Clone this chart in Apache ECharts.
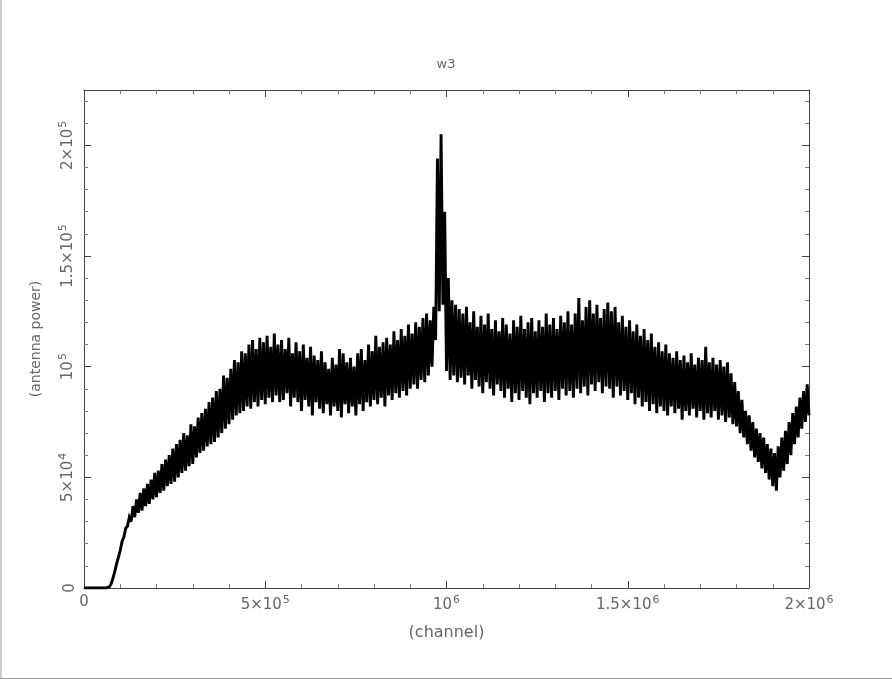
<!DOCTYPE html>
<html>
<head>
<meta charset="utf-8">
<style>
html,body{margin:0;padding:0;background:#fff;}
#chart{width:892px;height:680px;}
</style>
<script src="https://cdn.jsdelivr.net/npm/echarts@6/dist/echarts.min.js"></script>
</head>
<body>
<div id="chart"></div>
<script>
// Sampling grid of the spectrum (channels), one value every channelStep channels starting at 0
const channelStep = 5000;
// Antenna power, in units of 1000
const powerK = [
0,0,0,0,0,0,0,0,0,0,0,0,0,0,0.5,2,4.5,7.5,11,14,
17,21,23,27,28,32,30,37,32,40,34,43,35,45,37,47,38,49,40,52,
41,53,43,56,44,58,46,60,47,63,48,65,50,67,52,70,53,69,55,74,
56,73,59,77,61,79,62,81,64,84,65,86,66,89,68,90,70,96,72,95,
74,99,76,103,78,102,79,107,80,106,82,110,81,112,84,108,82,113,85,111,
83,114,86,109,84,115,87,110,84,112,85,108,88,113,82,106,86,111,84,107,
80,110,85,104,82,109,78,105,84,103,81,107,79,102,83,99,78,104,82,101,
80,108,77,106,83,102,79,104,82,100,78,106,83,108,80,103,84,110,82,107,
85,114,83,109,86,111,82,113,87,110,85,116,88,112,86,117,89,114,87,119,
90,115,92,120,90,118,94,122,93,124,96,121,100,127,112,194,125,205,128,170,
98,140,94,130,96,128,93,126,95,124,92,127,96,120,90,125,94,118,91,123,
88,119,93,124,90,117,87,121,92,116,89,122,86,119,90,115,84,121,88,118,
85,123,89,117,86,120,83,122,88,116,86,121,89,118,84,124,88,119,86,122,
89,117,85,123,90,120,87,125,89,119,86,124,90,131,88,121,91,127,87,130,
92,124,89,128,93,122,88,126,91,129,90,125,86,127,91,120,87,123,89,118,
85,121,88,116,83,119,86,114,82,117,84,112,80,115,83,109,79,111,82,107,
80,110,78,106,82,104,79,107,81,103,76,105,80,102,78,106,81,101,77,104,
80,103,76,109,79,102,77,104,80,101,76,103,78,100,75,102,77,97,74,93,
73,89,70,85,68,80,65,78,62,75,59,72,57,70,54,68,52,65,49,63,
46,61,44,64,50,68,53,71,56,75,60,79,65,82,68,86,72,89,75,92,
78
];
const xMajorLabels = {0:'{n|0}', 500000:'{n|5×10}{s|5}', 1000000:'{n|10}{s|6}', 1500000:'{n|1.5×10}{s|6}', 2000000:'{n|2×10}{s|6}'};
const yMajorLabels = {0:'{n|0}', 50000:'{n|5×10}{s|4}', 100000:'{n|10}{s|5}', 150000:'{n|1.5×10}{s|5}', 200000:'{n|2×10}{s|5}'};
const titleText = 'w3';
const xName = '(channel)';
const yName = '(antenna power)';

const seriesData = powerK.map((v, i) => [i * channelStep, v * 1000]);

const FONT = '"DejaVu Sans", sans-serif';
const TXT = '#666';
const AX = '#444';
const rich = {
  n: {fontFamily: FONT, fontSize: 15, color: TXT},
  s: {fontFamily: FONT, fontSize: 11, color: TXT, padding: [0, 0, 9, 1]}
};
function mkX(pos, showLabel) {
  return {
    type: 'value', position: pos, min: 0, max: 2000000, interval: 500000,
    axisLine: {show: true, onZero: false, lineStyle: {color: AX, width: 1}},
    axisTick: {show: true, inside: true, length: 7, lineStyle: {color: AX}},
    minorTick: {show: true, splitNumber: 5, length: 4, lineStyle: {color: '#777'}},
    splitLine: {show: false}, minorSplitLine: {show: false},
    axisLabel: {show: showLabel, margin: 7, formatter: v => xMajorLabels[v] || '', rich: rich},
    name: showLabel ? xName : '', nameLocation: 'middle', nameGap: 37,
    nameTextStyle: {fontFamily: FONT, fontSize: 16, color: TXT}
  };
}
function mkY(pos, showLabel) {
  return {
    type: 'value', position: pos, min: 0, max: 225000, interval: 50000,
    axisLine: {show: true, onZero: false, lineStyle: {color: AX, width: 1}},
    axisTick: {show: true, inside: true, length: 7, lineStyle: {color: AX}},
    minorTick: {show: true, splitNumber: 5, length: 4, lineStyle: {color: '#777'}},
    splitLine: {show: false}, minorSplitLine: {show: false},
    axisLabel: {show: showLabel, rotate: 90, margin: 6, showMaxLabel: false,
      formatter: v => yMajorLabels[v] || '', rich: rich},
    name: showLabel ? yName : '', nameLocation: 'middle', nameGap: 41, nameRotate: 90,
    nameTextStyle: {fontFamily: FONT, fontSize: 14, color: TXT}
  };
}

const chart = echarts.init(document.getElementById('chart'), null, {renderer: 'canvas'});
chart.setOption({
  animation: false,
  backgroundColor: '#fff',
  title: {text: titleText, left: 'center', top: 53,
    textStyle: {fontFamily: FONT, fontSize: 13, fontWeight: 'normal', color: TXT}},
  grid: {left: 84, right: 83, top: 90, bottom: 92, containLabel: false},
  xAxis: [mkX('bottom', true), mkX('top', false)],
  yAxis: [mkY('left', true), mkY('right', false)],
  series: [{
    type: 'line', xAxisIndex: 0, yAxisIndex: 0, data: seriesData,
    showSymbol: false, symbol: 'none', sampling: null,
    lineStyle: {color: '#000', width: 2.9, join: 'miter', miterLimit: 4}, silent: true
  }],
  graphic: [
    {type: 'line', shape: {x1: 1, y1: 0, x2: 1, y2: 679}, style: {stroke: '#999', lineWidth: 1}},
    {type: 'line', shape: {x1: 0, y1: 678.5, x2: 892, y2: 678.5}, style: {stroke: '#999', lineWidth: 1}}
  ]
});
</script>
</body>
</html>
